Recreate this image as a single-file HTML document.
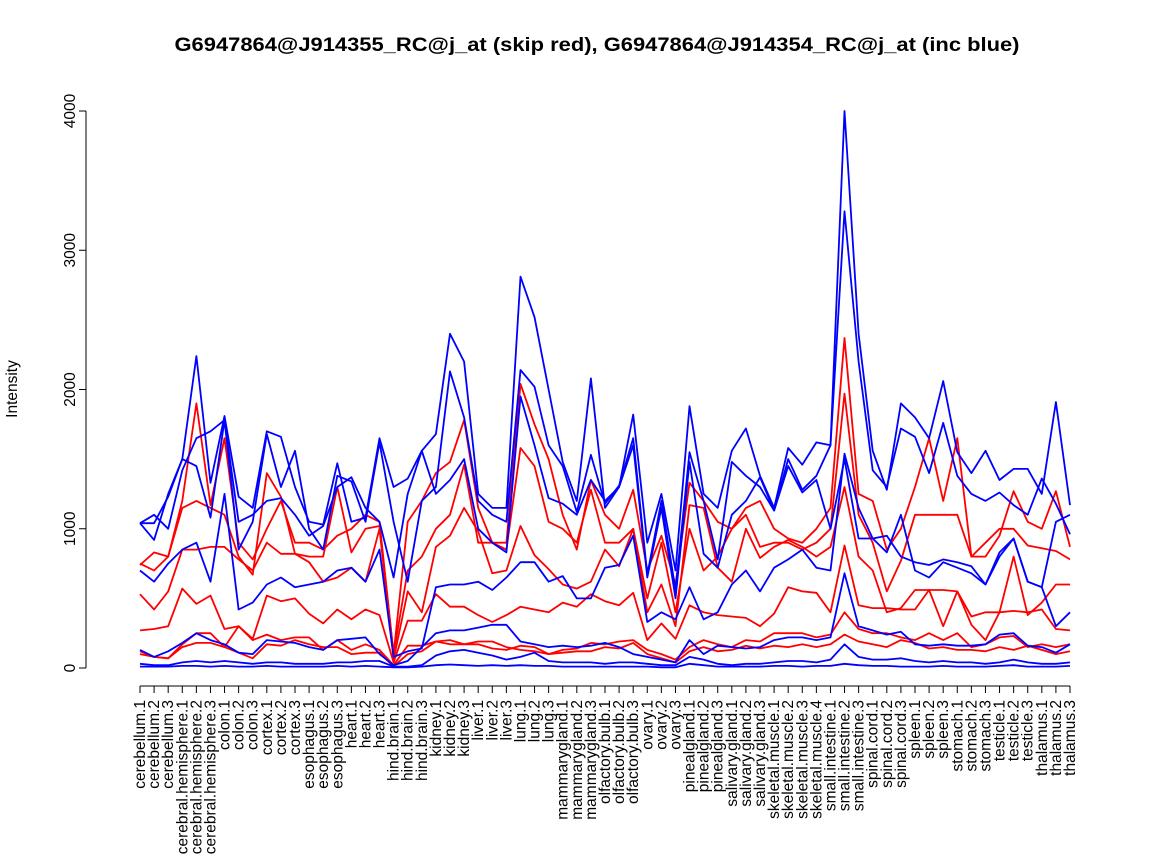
<!DOCTYPE html>
<html><head><meta charset="utf-8"><style>
body{margin:0;background:#fff;}
svg{display:block;font-family:"Liberation Sans",sans-serif;}
</style></head><body>
<svg id="chart" width="1152" height="864" xmlns="http://www.w3.org/2000/svg">
<text x="597" y="51" text-anchor="middle" font-size="19" font-weight="bold" textLength="845" lengthAdjust="spacingAndGlyphs">G6947864@J914355_RC@j_at (skip red), G6947864@J914354_RC@j_at (inc blue)</text>
<text transform="translate(17,389) rotate(-90)" text-anchor="middle" font-size="15.5">Intensity</text>
<g id="axes"></g><g id="lines"></g>
</svg>
<script>
const categories=["cerebellum.1","cerebellum.2","cerebellum.3","cerebral.hemisphere.1","cerebral.hemisphere.2","cerebral.hemisphere.3","colon.1","colon.2","colon.3","cortex.1","cortex.2","cortex.3","esophagus.1","esophagus.2","esophagus.3","heart.1","heart.2","heart.3","hind.brain.1","hind.brain.2","hind.brain.3","kidney.1","kidney.2","kidney.3","liver.1","liver.2","liver.3","lung.1","lung.2","lung.3","mammarygland.1","mammarygland.2","mammarygland.3","olfactory.bulb.1","olfactory.bulb.2","olfactory.bulb.3","ovary.1","ovary.2","ovary.3","pinealgland.1","pinealgland.2","pinealgland.3","salivary.gland.1","salivary.gland.2","salivary.gland.3","skeletal.muscle.1","skeletal.muscle.2","skeletal.muscle.3","skeletal.muscle.4","small.intestine.1","small.intestine.2","small.intestine.3","spinal.cord.1","spinal.cord.2","spinal.cord.3","spleen.1","spleen.2","spleen.3","stomach.1","stomach.2","stomach.3","testicle.1","testicle.2","testicle.3","thalamus.1","thalamus.2","thalamus.3"];
const yTicks=[0,1000,2000,3000,4000];
const blue1=[1040,1040,1230,1500,2240,1330,1810,1230,1150,1700,1660,1300,1050,1030,1470,1050,1080,1650,1300,1360,1560,1680,2400,2200,1250,1150,1150,2810,2520,2000,1480,1200,2080,1150,1300,1820,900,1250,700,1880,1250,1150,1560,1720,1380,1150,1580,1460,1620,1600,4000,2400,1560,1280,1900,1800,1650,2060,1550,1400,1560,1350,1430,1430,1250,1910,1170];
const blue2=[1040,920,1250,1500,1450,1080,1780,850,1050,1680,1300,1560,1000,850,1380,1340,1050,1620,1050,620,1200,1300,2130,1800,1200,1100,1050,2140,2020,1600,1450,1120,1530,1180,1310,1650,670,1200,560,1550,1200,780,1480,1380,1300,1130,1500,1280,1380,1600,3280,2200,1420,1300,1720,1660,1400,1760,1380,1250,1200,1260,1170,1100,1360,1180,960];
const blue3=[1040,1100,1000,1420,1650,1700,1780,1050,1100,1200,1220,1100,950,1020,1300,1370,1150,1050,650,1250,1560,1250,1350,1500,1000,900,830,1950,1600,1220,1180,1100,1350,1200,1300,1600,650,1150,500,1480,820,720,1100,1200,1370,1130,1450,1260,1350,1000,1500,930,930,830,1100,700,650,760,720,680,600,800,930,620,580,1050,1100];
const blue4=[700,620,750,850,900,620,1250,420,470,600,650,580,600,620,700,720,620,850,80,120,140,580,600,600,620,560,650,760,760,620,660,500,500,720,740,950,330,400,350,580,350,400,600,700,550,720,780,850,720,700,1540,1150,930,950,800,760,740,780,760,730,600,830,930,620,580,300,400];
const blue5=[130,80,120,180,250,200,170,110,100,200,190,180,150,130,200,210,220,100,20,50,150,250,270,270,290,310,310,190,170,150,160,150,160,180,150,100,80,60,40,200,100,160,150,140,150,200,220,220,200,220,680,300,270,240,260,170,160,170,160,160,170,240,250,160,150,110,170];
const blue6=[30,20,20,40,50,40,50,40,30,40,40,30,30,30,40,40,50,50,10,10,20,90,120,130,110,90,60,80,110,50,40,40,40,30,40,40,30,20,20,80,60,30,20,30,30,40,50,50,40,60,170,80,60,60,70,50,40,50,40,40,30,40,60,40,30,30,40];
const blue7=[10,10,10,15,15,10,15,10,10,15,10,10,10,10,15,10,15,10,5,5,10,20,25,20,15,20,15,20,15,15,10,10,10,10,10,10,10,5,5,30,20,10,10,10,10,15,15,10,15,15,30,20,15,15,10,10,10,15,10,10,10,15,20,10,10,10,15];
const red1=[750,700,800,1200,1900,1170,1650,900,780,1000,1200,900,900,850,950,1000,1100,1050,100,1050,1200,1400,1480,1780,1150,900,900,2040,1750,1500,1100,850,1350,1100,1000,1280,700,950,600,1330,1200,1050,1000,1150,1200,1000,930,900,1000,1150,2370,1250,1200,850,1000,1300,1650,1200,1650,800,800,950,1270,1050,1000,1270,870];
const red2=[740,830,800,1150,1200,1150,1100,800,670,1400,1230,820,800,800,1300,830,1000,1020,100,700,800,1000,1100,1460,900,900,850,1580,1450,1050,1000,900,1280,900,900,1000,500,900,400,1000,700,800,1000,1100,870,900,900,850,900,1000,1970,1100,900,550,770,1100,1100,1100,1100,800,900,1000,1000,880,860,840,780];
const red3=[530,420,550,850,850,870,870,780,700,900,820,820,760,620,650,720,620,1000,60,550,400,870,950,1150,980,680,700,1020,810,710,600,570,620,850,730,1000,400,600,300,1170,1150,720,620,1000,790,870,920,870,800,870,1300,800,700,400,430,560,560,560,550,370,400,400,800,380,470,600,600];
const red4=[270,280,300,570,460,520,280,300,210,520,480,500,390,320,420,350,420,380,40,340,340,530,440,440,380,330,380,440,420,400,470,440,530,480,450,540,200,320,210,450,400,380,370,360,300,390,580,550,540,400,880,450,430,430,420,420,560,300,550,310,200,400,410,400,420,280,270];
const red5=[120,80,70,170,250,250,150,300,200,240,200,220,220,130,200,130,170,130,20,160,160,190,200,170,170,140,130,160,150,100,130,140,180,170,190,200,130,100,60,150,200,170,150,200,190,250,250,250,220,240,400,280,250,250,220,200,250,200,250,150,170,220,230,150,170,150,170];
const red6=[100,80,70,150,180,180,150,110,70,170,160,200,170,150,150,100,110,110,10,100,120,190,170,170,190,190,150,130,120,100,110,120,120,150,140,180,100,70,40,120,150,120,130,160,140,160,150,170,150,170,240,190,170,150,200,180,140,150,130,130,120,150,130,160,130,100,120];

const NS="http://www.w3.org/2000/svg";
const x0=140,x1=1070,y0=668,y1=111;
function xs(i){return x0+i*(x1-x0)/(categories.length-1);}
function ys(v){return y0-v*(y0-y1)/4000;}
const axes=document.getElementById('axes');
function mk(tag,attrs,parent){const e=document.createElementNS(NS,tag);for(const k in attrs)e.setAttribute(k,attrs[k]);parent.appendChild(e);return e;}
const ya=mk('line',{x1:86,x2:86,y1:ys(0),y2:ys(4000),stroke:'#000'},axes);


yTicks.forEach(t=>{
  const l=mk('line',{x1:79,x2:86,y1:ys(t),y2:ys(t),stroke:'#000'},axes);
  
  
  const tx=mk('text',{transform:`translate(75,${ys(t)}) rotate(-90)`,'text-anchor':'middle','font-size':'15.5'},axes);
  tx.textContent=t;
  
  
});
const xa=mk('line',{x1:xs(0),x2:xs(categories.length-1),y1:686,y2:686,stroke:'#000'},axes);


categories.forEach((c,i)=>{
  const l=mk('line',{x1:xs(i),x2:xs(i),y1:686,y2:693,stroke:'#000'},axes);
  
  
  const tx=mk('text',{transform:`translate(${xs(i)+5},700) rotate(-90)`,'text-anchor':'end','font-size':'15.5'},axes);
  tx.textContent=c;
  
  
});
const lines=document.getElementById('lines');
const series=[[red1,'#ff0000','red'],[red2,'#ff0000','red'],[red3,'#ff0000','red'],[red4,'#ff0000','red'],[red5,'#ff0000','red'],[red6,'#ff0000','red'],
[blue1,'#0000ff','blue'],[blue2,'#0000ff','blue'],[blue3,'#0000ff','blue'],[blue4,'#0000ff','blue'],[blue5,'#0000ff','blue'],[blue6,'#0000ff','blue'],[blue7,'#0000ff','blue']];
series.forEach((s,k)=>{
  const pts=s[0].map((v,i)=>xs(i).toFixed(1)+','+ys(v).toFixed(1)).join(' ');
  const p=mk('polyline',{points:pts,fill:'none',stroke:s[1],'stroke-width':'1.8','stroke-linejoin':'round'},lines);
  
  
});
</script>
</body></html>
